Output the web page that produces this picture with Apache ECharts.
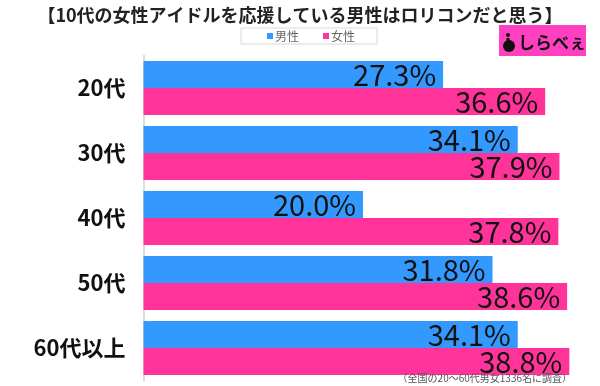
<!DOCTYPE html>
<html><head><meta charset="utf-8">
<script src="https://cdn.jsdelivr.net/npm/echarts@6/dist/echarts.min.js"></script>
<style>html,body{margin:0;padding:0;background:#fff}#c{width:600px;height:386px}</style>
</head><body><div id="c"></div>
<script>
const titleText = '【10代の女性アイドルを応援している男性はロリコンだと思う】';
const categories = ['20代', '30代', '40代', '50代', '60代以上'];
const seriesNames = ['男性', '女性'];
const maleValues = [27.3, 34.1, 20.0, 31.8, 34.1];
const femaleValues = [36.6, 37.9, 37.8, 38.6, 38.8];
const footnote = '（全国の20～60代男女1336名に調査）';
const FONT = '"Noto Sans CJK JP", "Noto Sans", sans-serif';

const chart = echarts.init(document.getElementById('c'), null, {renderer: 'canvas'});
const labelCfg = {
  show: true, position: 'insideRight', distance: 7,
  formatter: p => p.value.toFixed(1) + '%',
  fontSize: 29, color: '#111', fontFamily: FONT
};
chart.setOption({
  animation: false,
  textStyle: {fontFamily: FONT},
  title: {
    text: titleText, left: 'center', top: 1,
    textStyle: {fontSize: 18, fontWeight: 'bold', color: '#222', fontFamily: FONT}
  },
  legend: {
    data: seriesNames, left: 241, top: 28,
    borderColor: '#d8d8d8', borderWidth: 1, borderRadius: 0,
    padding: [2, 22, 2, 26], itemGap: 24,
    icon: 'rect', itemWidth: 6, itemHeight: 6,
    textStyle: {fontSize: 12, color: '#666', fontFamily: FONT, padding: [0, 0, 0, -3]}
  },
  grid: {left: 143.5, right: 17.5, top: 55.5, bottom: 5.5, containLabel: false},
  xAxis: {
    type: 'value', min: 0, max: 40, show: false
  },
  yAxis: {
    type: 'category', data: categories, inverse: true,
    axisLine: {show: true, lineStyle: {color: '#dddddd', width: 2}},
    axisTick: {show: false},
    axisLabel: {fontSize: 22, fontWeight: 'bold', color: '#111', margin: 18, fontFamily: FONT}
  },
  series: [
    {name: seriesNames[0], type: 'bar', data: maleValues, barGap: '0%', barCategoryGap: '17%',
     itemStyle: {color: '#3399ff'}, label: labelCfg},
    {name: seriesNames[1], type: 'bar', data: femaleValues, barGap: '0%', barCategoryGap: '17%',
     itemStyle: {color: '#ff3399'}, label: labelCfg}
  ],
  graphic: [
    {type: 'text', right: 28, top: 373, z: 100,
     style: {text: footnote, fontSize: 10, fill: '#555', fontFamily: FONT}},
    {type: 'group', left: 499, top: 25, z: 100, children: [
      {type: 'rect', shape: {x: 0, y: 0, width: 87, height: 31}, style: {fill: '#ff40c0'}},
      {type: 'circle', shape: {cx: 9, cy: 10, r: 2}, style: {fill: '#111'}},
      {type: 'circle', shape: {cx: 10, cy: 21, r: 6}, style: {fill: '#111'}},
      {type: 'rect', shape: {x: 7.5, y: 13, width: 3, height: 6}, style: {fill: '#111'}},
      {type: 'text', x: 19, y: 9,
       style: {text: 'しらべぇ', fontSize: 17, fontWeight: 'bold', fill: '#111', fontFamily: FONT}}
    ]}
  ]
});
</script></body></html>
